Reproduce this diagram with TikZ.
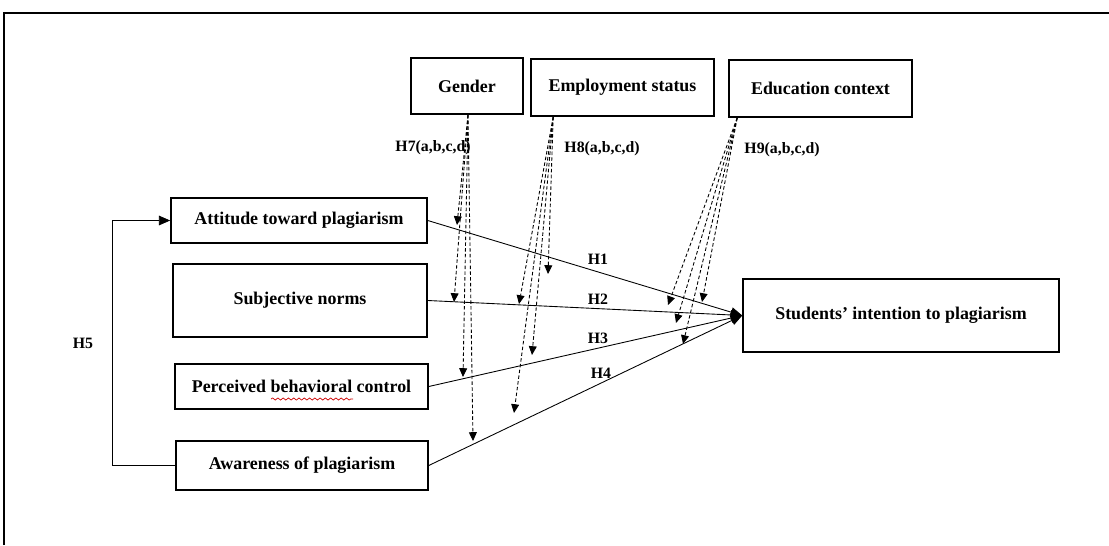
\documentclass[tikz,border=0pt]{standalone}
\usepackage{fontspec}
\setmainfont{Liberation Serif}
\usetikzlibrary{arrows.meta,positioning,decorations.pathmorphing}

\begin{document}
\begin{tikzpicture}
[x=0.02cm, y=-0.02cm, font=\bfseries\fontsize{10.2}{12}\selectfont,
% STYLES
% The construct style is used to draw the boxes of the model
construct/.style={rectangle, draw, line width=0.9pt, inner sep=2pt, text centered},
% The path style is used for the hypotheses between constructs
hpath/.style={-{Triangle[length=6.5pt,width=5.5pt]}, line width=0.5pt},
% The moderator style is used for the dashed moderating effects
modpath/.style={-{Triangle[length=5pt,width=4.5pt]}, dashed, line width=0.5pt, dash pattern=on 2pt off 1.3pt},
% The hyp style is used for the hypothesis labels
hyp/.style={font=\bfseries\fontsize{9}{11}\selectfont, inner sep=1pt}]

\useasboundingbox (0,0) rectangle (1109,545);
% frame
\draw[line width=1.1pt] (4,545) -- (4,13) -- (1109,13);

% Draw moderators
\node [construct, minimum width=2.24cm, minimum height=1.12cm] (gender) at (467,86) {Gender};
\node [construct, minimum width=3.66cm, minimum height=1.14cm] (employment) at (622.5,87.5) {Employment status};
\node [construct, minimum width=3.66cm, minimum height=1.14cm] (education) at (820.5,88.5) {Education context};

% Draw predictors
\node [construct, minimum width=5.12cm, minimum height=0.9cm] (attitude) at (299,220.5) {Attitude toward plagiarism};
\node [construct, minimum width=5.08cm, minimum height=1.46cm] (norms) at (300,300.5) {Subjective norms};
\node [construct, minimum width=5.06cm, minimum height=0.9cm] (control) at (301.5,386.5) {Perceived behavioral control};
\node [construct, minimum width=5.04cm, minimum height=0.98cm] (awareness) at (302,465.5) {Awareness of plagiarism};

% Draw outcome
\node [construct, minimum width=6.32cm, minimum height=1.46cm] (intention) at (901,315.5) {Students’ intention to plagiarism};

% spelling squiggle under "behavioral"
\draw[red!80!black, line width=0.4pt, decorate, decoration={snake, segment length=3pt, amplitude=0.6pt}] (271,399) -- (353,399);

%%%%%%%%%%%%%%%
% Hypotheses H1--H4
\draw[hpath] (attitude.east) -- (intention.west);
\draw[hpath] (norms.east) -- (intention.west);
\draw[hpath] (control.east) -- (intention.west);
\draw[hpath] (awareness.east) -- (intention.west);

\node [hyp] (h1) at (598,259) {H1};
\node [hyp] (h2) at (598,299) {H2};
\node [hyp] (h3) at (598,338) {H3};
\node [hyp] (h4) at (601,373) {H4};

% H5
\draw[hpath] (awareness.west) -- ++(-63,0) |- (attitude.west);
\node [hyp] (h5) at (83,343) {H5};

%%%%%%%%%%%%%%%
% Moderating effects

% GENDER
\coordinate (gs) at ([xshift=0.02cm]gender.south);
\coordinate (g1) at (457,225);
\coordinate (g2) at (454,302);
\coordinate (g3) at (463,377);
\coordinate (g4) at (473,441);
\foreach \t in {g1,g2,g3,g4}
  \draw[modpath] (gs) -- (\t);
\node [hyp] (h7) at (433,148) {H7(a,b,c,d)};

% EMPLOYMENT STATUS
\coordinate (es) at ([xshift=0.46cm]employment.south west);
\coordinate (e1) at (548,274);
\coordinate (e2) at (519,304);
\coordinate (e3) at (532,355);
\coordinate (e4) at (514,413);
\foreach \t in {e1,e2,e3,e4}
  \draw[modpath] (es) -- (\t);
\node [hyp] (h8) at (602,149) {H8(a,b,c,d)};

% EDUCATION CONTEXT
\coordinate (cs) at ([xshift=0.18cm]education.south west);
\coordinate (c1) at (668,305);
\coordinate (c2) at (702,302);
\coordinate (c3) at (676,323);
\coordinate (c4) at (683,344);
\foreach \t in {c1,c2,c3,c4}
  \draw[modpath] (cs) -- (\t);
\node [hyp] (h9) at (782,150) {H9(a,b,c,d)};

\end{tikzpicture}
\end{document}
